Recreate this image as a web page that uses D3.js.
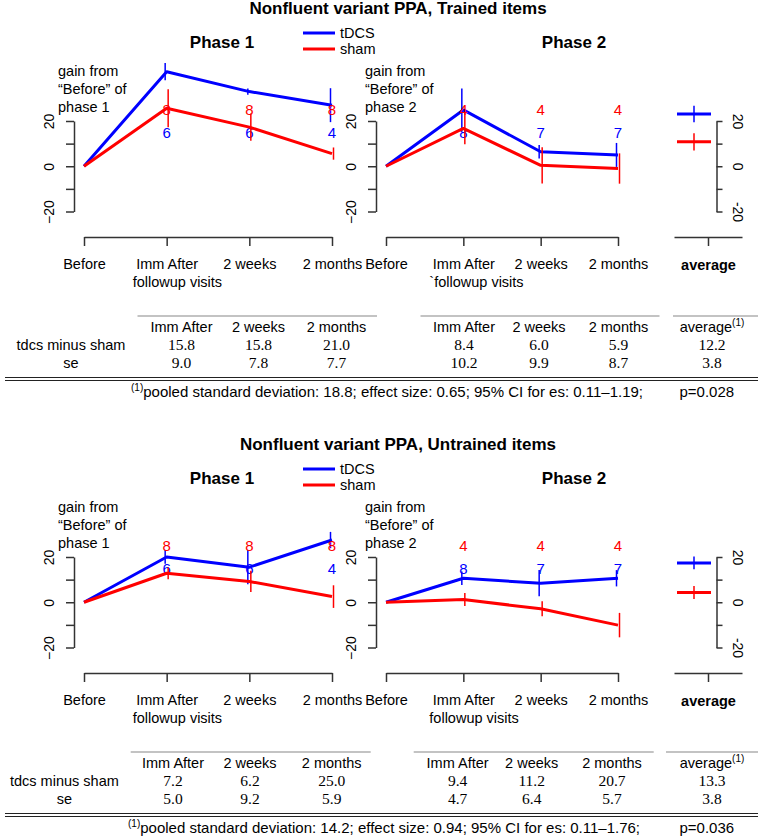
<!DOCTYPE html>
<html>
<head>
<meta charset="utf-8">
<script src="https://cdn.jsdelivr.net/npm/d3@7"></script>
<style>
body{margin:0;background:#fff;}
svg text{font-family:"Liberation Sans",Arial,sans-serif;}
</style>
</head>
<body>
<script>
"use strict";

// categories and labels
var visits=["Before","Imm After","2 weeks","2 months"];
var yTicks=[-20,-10,0,10,20];
var seriesNames=["tDCS","sham"];
var seriesColors=["#0000ff","#ff0000"];
var chartTitles=["Nonfluent variant PPA, Trained items","Nonfluent variant PPA, Untrained items"];
var phaseTitles=["Phase 1","Phase 2"];
var secondLines=[["followup visits","`followup visits"],["followup visits","followup visits"]];
var tableCols=["Imm After","2 weeks","2 months"];
var rowNames=["tdcs minus sham","se"];

// trained items, phase 1
var trP1Tdcs=[0,41.8,33.0,27.0];
var trP1TdcsSe=[0,3.8,1.4,7.5];
var trP1Sham=[0,25.6,17.3,5.6];
var trP1ShamSe=[0,8.4,6.0,2.7];
var trP1TdcsN=[6,6,4];
var trP1ShamN=[8,8,8];
// trained items, phase 2
var trP2Tdcs=[0,24.9,6.4,5.0];
var trP2TdcsSe=[0,9.5,3.0,5.3];
var trP2Sham=[0,16.7,0.4,-1.0];
var trP2ShamSe=[0,7.0,8.0,6.7];
var trP2TdcsN=[8,7,7];
var trP2ShamN=[4,4,4];
// trained items, average (tDCS, sham)
var trAvg=[23.1,10.8];
var trAvgSe=[3.6,3.8];

// untrained items, phase 1
var unP1Tdcs=[0,20.0,15.5,27.5];
var unP1TdcsSe=[0,3.0,7.5,3.6];
var unP1Sham=[0,12.8,9.2,2.5];
var unP1ShamSe=[0,2.6,4.7,5.0];
var unP1TdcsN=[6,6,4];
var unP1ShamN=[8,8,8];
// untrained items, phase 2
var unP2Tdcs=[0,10.6,8.4,10.6];
var unP2TdcsSe=[0,3.0,5.8,3.6];
var unP2Sham=[0,1.2,-2.9,-10.1];
var unP2ShamSe=[0,2.9,3.3,5.4];
var unP2TdcsN=[8,7,7];
var unP2ShamN=[4,4,4];
// untrained items, average
var unAvg=[17.4,4.3];
var unAvgSe=[2.8,2.9];

// tables
var trDiffP1=[15.8,15.8,21.0], trSeP1=[9.0,7.8,7.7];
var trDiffP2=[8.4,6.0,5.9], trSeP2=[10.2,9.9,8.7];
var trAvgDiff=12.2, trAvgDiffSe=3.8;
var trNote=["18.8","0.65","0.11","1.19","0.028"];
var unDiffP1=[7.2,6.2,25.0], unSeP1=[5.0,9.2,5.9];
var unDiffP2=[9.4,11.2,20.7], unSeP2=[4.7,6.4,5.7];
var unAvgDiff=13.3, unAvgDiffSe=3.8;
var unNote=["14.2","0.94","0.11","1.76","0.036"];

var svg=d3.select("body").append("svg").attr("width",762).attr("height",836);

function styleAxis(g){
	g.attr("font-family","Liberation Sans, Arial, sans-serif");
	g.selectAll("path.domain").attr("stroke","#333").attr("stroke-width",1.5);
	g.selectAll(".tick line").attr("stroke","#333").attr("stroke-width",1.5);
	g.selectAll(".tick text").attr("fill","#000");
}

function drawPhase(parent, p, yScale, x0, x1, second){
	var g=parent.append("g");
	var xScale=d3.scalePoint().domain(visits).range([x0,x1]);

	var yAxis=g.append("g")
		.attr("transform","translate("+(x0-10)+",0)")
		.call(d3.axisLeft(yScale).tickValues(yTicks).tickSize(8).tickSizeOuter(0)
			.tickFormat(function(d){return d%20===0 ? d3.format("d")(d) : "";}));
	yAxis.selectAll(".tick text")
		.attr("x",0).attr("y",-20).attr("dy",null)
		.attr("transform","rotate(-90)")
		.attr("text-anchor","middle")
		.attr("font-size",14);
	styleAxis(yAxis);

	var xAxis=g.append("g")
		.attr("transform","translate(0,237)")
		.call(d3.axisBottom(xScale).tickSize(9).tickSizeOuter(0).tickPadding(13));
	xAxis.selectAll(".tick text").attr("font-size",14.5);
	styleAxis(xAxis);

	g.append("text")
		.attr("x",xScale("Imm After")-34)
		.attr("y",287)
		.attr("font-size",14.5)
		.text(second);

	p.series.forEach(function(s,i){
		var off=i===0 ? -1.5 : 1.5;
		var line=d3.line()
			.x(function(d,j){return xScale(visits[j]);})
			.y(function(d){return yScale(d);});

		g.append("path")
			.attr("d",line(s.values))
			.attr("fill","none")
			.attr("stroke",seriesColors[i])
			.attr("stroke-width",3)
			.attr("stroke-linejoin","round");

		g.selectAll("line.err"+i)
			.data(s.values.slice(1))
			.enter()
			.append("line")
			.attr("class","err"+i)
			.attr("x1",function(d,j){return xScale(visits[j+1])+off;})
			.attr("x2",function(d,j){return xScale(visits[j+1])+off;})
			.attr("y1",function(d,j){return yScale(d-s.se[j+1]);})
			.attr("y2",function(d,j){return yScale(d+s.se[j+1]);})
			.attr("stroke",seriesColors[i])
			.attr("stroke-width",1.5);

		g.selectAll("text.n"+i)
			.data(s.n)
			.enter()
			.append("text")
			.attr("class","n"+i)
			.attr("x",function(d,j){return xScale(visits[j+1]);})
			.attr("y",yScale(i===0 ? 15 : 25)+5.5)
			.attr("text-anchor","middle")
			.attr("font-size",15)
			.attr("fill",seriesColors[i])
			.text(function(d){return d;});
	});
}

function drawAverage(parent, avg, se, yScale){
	var g=parent.append("g");
	var xScale=d3.scalePoint().domain(["average"]).range([674,742]).padding(0.5);

	var yAxis=g.append("g")
		.attr("transform","translate(716.5,0)")
		.call(d3.axisRight(yScale).tickValues(yTicks).tickSize(6).tickSizeOuter(0)
			.tickFormat(function(d){return d%20===0 ? d : "";}));
	yAxis.selectAll(".tick text")
		.attr("x",0).attr("y",-16).attr("dy",null)
		.attr("transform","rotate(90)")
		.attr("text-anchor","middle")
		.attr("font-size",14);
	styleAxis(yAxis);

	var xAxis=g.append("g")
		.attr("transform","translate(0,237)")
		.call(d3.axisBottom(xScale).tickSize(9).tickSizeOuter(0).tickPadding(14));
	xAxis.selectAll(".tick text").attr("font-size",14.5).attr("font-weight","bold");
	styleAxis(xAxis);

	var cx=xScale("average")-14;
	avg.forEach(function(v,i){
		g.append("line")
			.attr("x1",cx-17).attr("x2",cx+17)
			.attr("y1",yScale(v)).attr("y2",yScale(v))
			.attr("stroke",seriesColors[i]).attr("stroke-width",3);
		g.append("line")
			.attr("x1",cx).attr("x2",cx)
			.attr("y1",yScale(v-se[i])).attr("y2",yScale(v+se[i]))
			.attr("stroke",seriesColors[i]).attr("stroke-width",1.5);
	});
}

function drawTable(parent, t){
	var g=parent.append("g");
	var fmt=d3.format(".1f");
	var ruleY=316;
	[t.rule1,t.rule2,t.rule3].forEach(function(r){
		g.append("line").attr("x1",r[0]).attr("x2",r[1]).attr("y1",ruleY).attr("y2",ruleY)
			.attr("stroke","#888").attr("stroke-width",1.2);
	});
	[377.5,380.5].forEach(function(y){
		g.append("line").attr("x1",5).attr("x2",758).attr("y1",y).attr("y2",y)
			.attr("stroke","#222").attr("stroke-width",1);
	});
	var cols=t.cols1.concat(t.cols2);
	var heads=tableCols.concat(tableCols);
	heads.forEach(function(h,i){
		g.append("text").attr("x",cols[i]).attr("y",332).attr("text-anchor","middle")
			.attr("font-size",14.5).text(h);
	});
	var avgHead=g.append("text").attr("x",t.avgX).attr("y",332).attr("text-anchor","middle").attr("font-size",14.5);
	avgHead.append("tspan").text("average");
	avgHead.append("tspan").attr("dy",-6).attr("font-size",10).text("(1)");

	rowNames.forEach(function(r,k){
		g.append("text").attr("x",t.labelX).attr("y",350+k*17.5).attr("text-anchor","middle")
			.attr("font-size",14.5).text(r);
	});
	var rows=[t.diff1.concat(t.diff2,[t.avgDiff]), t.se1.concat(t.se2,[t.avgSe])];
	var xs=cols.concat([t.avgX]);
	rows.forEach(function(row,k){
		g.selectAll("text.v"+k)
			.data(row)
			.enter()
			.append("text")
			.attr("class","v"+k)
			.attr("x",function(d,j){return xs[j];})
			.attr("y",350+k*17.5)
			.attr("text-anchor","middle")
			.style("font-family","Liberation Serif, serif")
			.attr("font-size",15.5)
			.text(function(d){return fmt(d);});
	});

	var note=g.append("text").attr("x",t.noteX).attr("y",397).attr("font-size",15);
	note.append("tspan").attr("dy",-6).attr("font-size",10).text("(1)");
	note.append("tspan").attr("dy",6)
		.text("pooled standard deviation: "+t.note[0]+"; effect size: "+t.note[1]+"; 95% CI for es: "+t.note[2]+"\u2013"+t.note[3]+";");
	g.append("text").attr("x",679.5).attr("y",397).attr("font-size",15).text("p="+t.note[4]);
}

function drawBlock(top, k, phases, avg, avgSe, table){
	var g=svg.append("g").attr("transform","translate(0,"+top+")");
	var yScale=d3.scaleLinear().domain([-20,20]).range([211.5,121]);

	g.append("text").attr("x",398).attr("y",14).attr("text-anchor","middle")
		.attr("font-size",17).attr("font-weight","bold").text(chartTitles[k]);
	g.append("text").attr("x",222).attr("y",48).attr("text-anchor","middle")
		.attr("font-size",17).attr("font-weight","bold").text(phaseTitles[0]);
	g.append("text").attr("x",574).attr("y",48).attr("text-anchor","middle")
		.attr("font-size",17).attr("font-weight","bold").text(phaseTitles[1]);

	seriesNames.forEach(function(s,i){
		g.append("line").attr("x1",303).attr("x2",335).attr("y1",33+i*16).attr("y2",33+i*16)
			.attr("stroke",seriesColors[i]).attr("stroke-width",3);
		g.append("text").attr("x",340).attr("y",38+i*16).attr("font-size",14.5).text(s);
	});

	[58,365].forEach(function(x,i){
		var lines=["gain from","\u201cBefore\u201d of","phase "+(i+1)];
		lines.forEach(function(l,j){
			g.append("text").attr("x",x).attr("y",76+j*18).attr("font-size",14.5).text(l);
		});
	});

	drawPhase(g, phases[0], yScale, 84, 332, secondLines[k][0]);
	drawPhase(g, phases[1], yScale, 386, 618, secondLines[k][1]);
	drawAverage(g, avg, avgSe, yScale);
	drawTable(g, table);
}

drawBlock(0, 0,
	[{series:[{values:trP1Tdcs,se:trP1TdcsSe,n:trP1TdcsN},{values:trP1Sham,se:trP1ShamSe,n:trP1ShamN}]},
	 {series:[{values:trP2Tdcs,se:trP2TdcsSe,n:trP2TdcsN},{values:trP2Sham,se:trP2ShamSe,n:trP2ShamN}]}],
	trAvg, trAvgSe,
	{rule1:[137.5,377],rule2:[420.5,659.5],rule3:[673,758],labelX:71,
	 cols1:[181.5,258.5,336.5],cols2:[464,539,618.5],avgX:712,noteX:131,
	 diff1:trDiffP1,se1:trSeP1,diff2:trDiffP2,se2:trSeP2,avgDiff:trAvgDiff,avgSe:trAvgDiffSe,note:trNote});

drawBlock(436, 1,
	[{series:[{values:unP1Tdcs,se:unP1TdcsSe,n:unP1TdcsN},{values:unP1Sham,se:unP1ShamSe,n:unP1ShamN}]},
	 {series:[{values:unP2Tdcs,se:unP2TdcsSe,n:unP2TdcsN},{values:unP2Sham,se:unP2ShamSe,n:unP2ShamN}]}],
	unAvg, unAvgSe,
	{rule1:[130.7,370.7],rule2:[413.7,653.7],rule3:[666,758],labelX:64.4,
	 cols1:[173,250,331.7],cols2:[457.6,531.7,612],avgX:712,noteX:128,
	 diff1:unDiffP1,se1:unSeP1,diff2:unDiffP2,se2:unSeP2,avgDiff:unAvgDiff,avgSe:unAvgDiffSe,note:unNote});
</script>
</body>
</html>
